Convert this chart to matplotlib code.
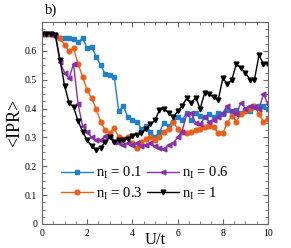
"""IPR versus U/t for several impurity concentrations"""
import matplotlib
matplotlib.use("Agg")
import matplotlib.pyplot as plt
from matplotlib.ticker import MultipleLocator

# U/t grid (step 0.2)
u_vals = [i * 0.2 for i in range(51)]

ipr_n01 = [0.66, 0.66, 0.66, 0.655, 0.645, 0.645, 0.645, 0.64, 0.63, 0.645,
           0.61, 0.615, 0.58, 0.55, 0.52, 0.515, 0.51, 0.39, 0.41, 0.37,
           0.36, 0.355, 0.33, 0.34, 0.32, 0.30, 0.32, 0.35, 0.34, 0.355,
           0.37, 0.36, 0.385, 0.36, 0.385, 0.375, 0.37, 0.38, 0.37, 0.385,
           0.38, 0.395, 0.39, 0.395, 0.385, 0.395, 0.39, 0.405, 0.41, 0.41,
           0.40]
ipr_n03 = [0.66, 0.66, 0.66, 0.655, 0.645, 0.62, 0.60, 0.61, 0.555, 0.51,
           0.465, 0.435, 0.40, 0.355, 0.325, 0.316, 0.333, 0.30, 0.295, 0.30,
           0.28, 0.265, 0.285, 0.295, 0.30, 0.29, 0.30, 0.32, 0.33, 0.355,
           0.33, 0.32, 0.315, 0.32, 0.325, 0.33, 0.335, 0.34, 0.335, 0.315,
           0.315, 0.35, 0.375, 0.355, 0.38, 0.39, 0.40, 0.41, 0.38, 0.355,
           0.365]
ipr_n06 = [0.66, 0.66, 0.66, 0.65, 0.56, 0.525, 0.505, 0.555, 0.415, 0.34,
           0.32, 0.30, 0.29, 0.29, 0.305, 0.30, 0.285, 0.28, 0.275, 0.28,
           0.275, 0.28, 0.27, 0.275, 0.28, 0.27, 0.265, 0.26, 0.275, 0.28,
           0.30, 0.32, 0.38, 0.385, 0.35, 0.345, 0.37, 0.355, 0.36, 0.37,
           0.385, 0.41, 0.39, 0.38, 0.42, 0.40, 0.41, 0.405, 0.40, 0.45,
           0.415]
ipr_n1 = [0.66, 0.66, 0.66, 0.655, 0.57, 0.48, 0.42, 0.405, 0.357, 0.32,
          0.29, 0.27, 0.255, 0.265, 0.285, 0.30, 0.285, 0.29, 0.29, 0.296,
          0.305, 0.31, 0.315, 0.33, 0.345, 0.36, 0.395, 0.40, 0.385, 0.37,
          0.39, 0.41, 0.435, 0.42, 0.438, 0.40, 0.455, 0.45, 0.44, 0.43,
          0.505, 0.485, 0.50, 0.555, 0.54, 0.525, 0.50, 0.50, 0.585, 0.555,
          0.555]

labels = [r"n$_{\mathregular{I}}$ = 0.1", r"n$_{\mathregular{I}}$ = 0.3",
          r"n$_{\mathregular{I}}$ = 0.6", r"n$_{\mathregular{I}}$ = 1"]
colors = ["#1f80cc", "#e8601c", "#8a2fa8", "black"]
markers = ["s", "o", "<", "v"]


def main():
    plt.rcParams["font.family"] = ["Liberation Serif", "DejaVu Serif"]
    plt.rcParams["mathtext.default"] = "regular"

    fig = plt.figure(figsize=(2.91, 2.48), dpi=100)
    ax = fig.add_axes([0.144, 0.097, 0.777, 0.814])

    series = [ipr_n01, ipr_n03, ipr_n06, ipr_n1]
    lines = []
    for ys, lab, col, mk in zip(series, labels, colors, markers):
        ln, = ax.plot(u_vals, ys, color=col, marker=mk, markersize=3.4,
                      linewidth=1.0, label=lab)
        lines.append(ln)

    ax.set_xlim(0, 10)
    ax.set_ylim(0, 0.7)
    ax.xaxis.set_major_locator(MultipleLocator(2))
    ax.xaxis.set_minor_locator(MultipleLocator(0.5))
    ax.yaxis.set_minor_locator(MultipleLocator(0.025))
    ax.set_yticks([0, 0.1, 0.2, 0.3, 0.4, 0.5, 0.6])
    ax.set_yticklabels(["0", "0.1", "0.2", "0.3", "0.4", "0.5", "0.6"])
    ax.tick_params(which="both", direction="in", top=True, right=True,
                   labelsize=7, color="0.4")
    ax.tick_params(which="major", length=3.5)
    ax.tick_params(which="minor", length=2)
    for sp in ax.spines.values():
        sp.set_color("0.4")
        sp.set_linewidth(0.8)

    ax.set_xlabel("U/t", fontsize=12, labelpad=-4.5)
    ax.set_ylabel("<IPR>", fontsize=13, labelpad=1)
    fig.text(0.155, 0.945, "b)", fontsize=10.5)

    # legend order in two columns: 0.1 / 0.3 then 0.6 / 1
    ax.legend(lines, labels, ncol=2, loc="lower left",
              bbox_to_anchor=(0.04, 0.06), frameon=False, fontsize=10.5,
              handlelength=2.2, handletextpad=0.2, columnspacing=0.3,
              labelspacing=0.3, borderpad=0.2)

    fig.savefig("out.png", dpi=100)


if __name__ == "__main__":
    main()
